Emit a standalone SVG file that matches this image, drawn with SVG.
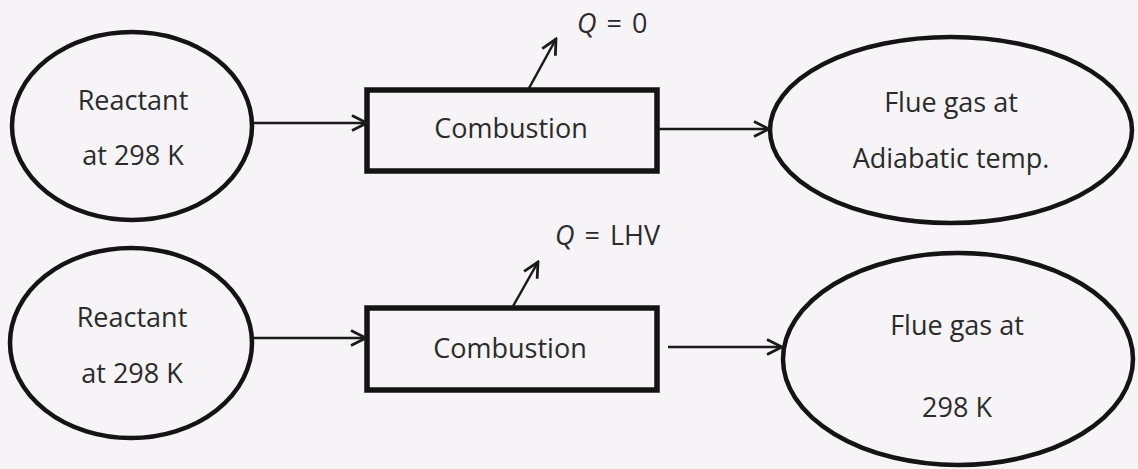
<svg xmlns="http://www.w3.org/2000/svg" width="1138" height="469" viewBox="0 0 1138 469">
  <style>
    .node { fill: none; stroke: #141414; stroke-width: 4.5; }
    .box { fill: none; stroke: #141414; stroke-width: 5.5; }
    .wire { fill: none; stroke: #1a1a1a; stroke-width: 2.5; }
    .label { font-family: "Open Sans", "DejaVu Sans", sans-serif; font-size: 27px; fill: #2b2b2b; text-anchor: middle; }
    .q { font-family: "Open Sans", "DejaVu Sans", sans-serif; font-size: 27px; fill: #2b2b2b; word-spacing: 3px; }
  </style>
  <defs>
    <marker id="open-arrow" viewBox="0 0 20 20" refX="18" refY="10" markerWidth="20" markerHeight="20" markerUnits="userSpaceOnUse" orient="auto">
      <path d="M3,2.5 L18,10 L3,17.5" fill="none" stroke="#1a1a1a" stroke-width="2.8"/>
    </marker>
  </defs>
  <rect x="0" y="0" width="1138" height="469" fill="#f6f4f6"/>

  <!-- upper row: adiabatic case -->
  <g id="reactant-top">
    <ellipse class="node" cx="132" cy="126" rx="120" ry="94"/>
    <text class="label" x="133" y="110">Reactant</text>
    <text class="label" x="133" y="165">at 298 K</text>
  </g>
  <g id="combustion-top">
    <rect class="box" x="367" y="90" width="290" height="81"/>
    <text class="label" x="511" y="138">Combustion</text>
  </g>
  <g id="flue-top">
    <ellipse class="node" cx="951" cy="130" rx="181" ry="93"/>
    <text class="label" x="951" y="112">Flue gas at</text>
    <text class="label" x="951" y="168">Adiabatic temp.</text>
  </g>
  <g id="heat-top">
    <text class="q" x="577" y="33"><tspan font-style="italic">Q</tspan> = 0</text>
  </g>

  <!-- lower row: heat released at 298 K -->
  <g id="reactant-bottom">
    <ellipse class="node" cx="131" cy="343" rx="121" ry="95"/>
    <text class="label" x="132" y="327">Reactant</text>
    <text class="label" x="132" y="383">at 298 K</text>
  </g>
  <g id="combustion-bottom">
    <rect class="box" x="367" y="308" width="290" height="82"/>
    <text class="label" x="510" y="358">Combustion</text>
  </g>
  <g id="flue-bottom">
    <ellipse class="node" cx="958" cy="359" rx="175" ry="106"/>
    <text class="label" x="957" y="335">Flue gas at</text>
    <text class="label" x="957" y="417">298 K</text>
  </g>
  <g id="heat-bottom">
    <text class="q" x="555" y="245"><tspan font-style="italic">Q</tspan> = LHV</text>
  </g>

  <g id="connectors">
    <line class="wire" x1="254" y1="123" x2="367" y2="123" marker-end="url(#open-arrow)"/>
    <line class="wire" x1="659" y1="129" x2="769" y2="129" marker-end="url(#open-arrow)"/>
    <line class="wire" x1="528" y1="90" x2="556" y2="39" marker-end="url(#open-arrow)"/>
    <line class="wire" x1="253" y1="338" x2="366" y2="338" marker-end="url(#open-arrow)"/>
    <line class="wire" x1="668" y1="347" x2="782" y2="347" marker-end="url(#open-arrow)"/>
    <line class="wire" x1="512" y1="308" x2="538" y2="262" marker-end="url(#open-arrow)"/>
  </g>
</svg>
